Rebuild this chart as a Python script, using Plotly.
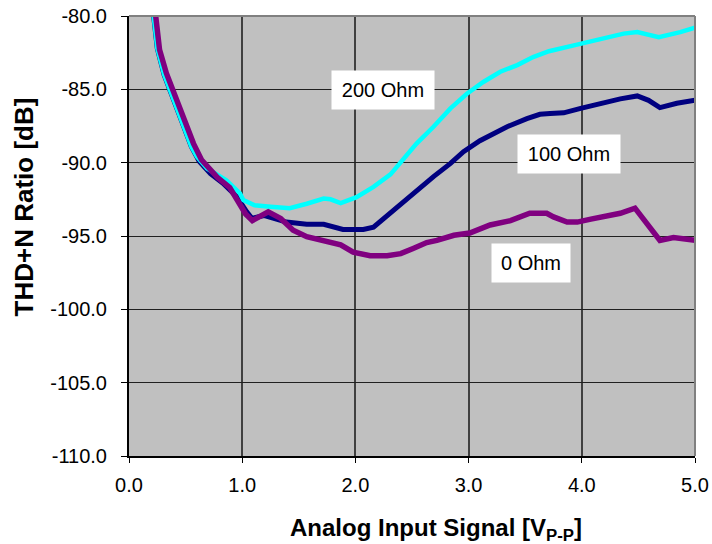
import plotly.graph_objects as go

# ---- data ----
x_0ohm = [0.20, 0.24, 0.27, 0.33, 0.39, 0.45, 0.51, 0.57, 0.64, 0.78, 0.89, 0.97, 1.03, 1.09,
          1.23, 1.34, 1.45, 1.57, 1.75, 1.87, 1.98, 2.13, 2.28, 2.40, 2.51, 2.63, 2.72, 2.87,
          3.01, 3.19, 3.37, 3.54, 3.69, 3.75, 3.87, 3.96, 4.08, 4.19, 4.34, 4.47, 4.58, 4.69,
          4.81, 5.00]
y_0ohm = [-77.6, -80.1, -82.3, -83.9, -85.1, -86.4, -87.6, -88.7, -89.8, -91.0, -91.7, -92.7,
          -93.5, -93.95, -93.35, -93.8, -94.6, -95.05, -95.4, -95.6, -96.1, -96.35, -96.35,
          -96.2, -95.85, -95.45, -95.3, -94.95, -94.8, -94.25, -93.95, -93.45, -93.45, -93.7,
          -94.05, -94.05, -93.85, -93.65, -93.45, -93.1, -94.15, -95.3, -95.1, -95.3]

x_100ohm = [0.20, 0.22, 0.25, 0.31, 0.37, 0.43, 0.49, 0.55, 0.62, 0.72, 0.83, 0.95, 1.04, 1.085,
            1.19, 1.275, 1.39, 1.57, 1.72, 1.89, 2.07, 2.16, 2.28, 2.40, 2.54, 2.69, 2.84,
            2.955, 3.10, 3.19, 3.34, 3.515, 3.63, 3.72, 3.84, 3.99, 4.16, 4.34, 4.49, 4.59,
            4.69, 4.84, 5.00]
y_100ohm = [-78.8, -80.1, -82.2, -84.0, -85.2, -86.6, -87.8, -88.9, -89.9, -90.75, -91.4, -92.3,
            -93.35, -93.8, -93.6, -93.8, -94.05, -94.2, -94.2, -94.55, -94.55, -94.4, -93.6,
            -92.9, -91.9, -90.95, -90.05, -89.25, -88.5, -88.15, -87.55, -87.0, -86.7, -86.65,
            -86.6, -86.3, -85.95, -85.65, -85.45, -85.75, -86.25, -85.95, -85.75]

x_200ohm = [0.20, 0.22, 0.25, 0.31, 0.37, 0.43, 0.49, 0.55, 0.60, 0.69, 0.86, 0.98, 1.01, 1.11,
            1.25, 1.42, 1.57, 1.72, 1.78, 1.87, 2.01, 2.16, 2.31, 2.395, 2.54, 2.69, 2.84,
            2.985, 3.13, 3.28, 3.43, 3.57, 3.71, 3.93, 4.16, 4.37, 4.49, 4.68, 4.87, 5.00]
y_200ohm = [-78.8, -80.1, -82.2, -84.0, -85.2, -86.6, -87.8, -88.9, -89.6, -90.4, -91.2, -92.1,
            -92.55, -92.9, -93.0, -93.1, -92.8, -92.45, -92.5, -92.75, -92.35, -91.65, -90.8,
            -90.05, -88.7, -87.55, -86.3, -85.3, -84.5, -83.8, -83.35, -82.8, -82.4, -82.0,
            -81.55, -81.2, -81.1, -81.45, -81.1, -80.8]

x_ticks = [0, 1, 2, 3, 4, 5]
x_tick_labels = ["0.0", "1.0", "2.0", "3.0", "4.0", "5.0"]
y_ticks = [-110, -105, -100, -95, -90, -85, -80]
y_tick_labels = ["-110.0", "-105.0", "-100.0", "-95.0", "-90.0", "-85.0", "-80.0"]

series_labels = ["200 Ohm", "100 Ohm", "0 Ohm"]
label_x = [2.245, 3.889, 3.553]
label_y = [-85.06, -89.42, -96.81]
label_w = [90, 90, 66]

FONT = "Liberation Sans, Arial, sans-serif"

fig = go.Figure()
fig.add_trace(go.Scatter(x=x_100ohm, y=y_100ohm, mode="lines", name="100 Ohm",
                         line=dict(color="#000080", width=5)))
fig.add_trace(go.Scatter(x=x_200ohm, y=y_200ohm, mode="lines", name="200 Ohm",
                         line=dict(color="#00FFFF", width=4.5)))
fig.add_trace(go.Scatter(x=x_0ohm, y=y_0ohm, mode="lines", name="0 Ohm",
                         line=dict(color="#800080", width=5.5)))

for txt, ax_, ay_, w in zip(series_labels, label_x, label_y, label_w):
    fig.add_annotation(x=ax_, y=ay_, xref="x", yref="y", text=txt, showarrow=False,
                       bgcolor="white", width=w, height=26, borderpad=6,
                       font=dict(family=FONT, size=20, color="black"))

# axis titles
fig.add_annotation(x=0.5424, y=-0.166, xref="paper", yref="paper", xanchor="center",
                   yanchor="middle", showarrow=False,
                   text="<b>Analog Input Signal [V<sub>P-P</sub>]</b>",
                   font=dict(family=FONT, size=24, color="black"))
fig.add_annotation(x=-0.1855, y=0.565, xref="paper", yref="paper", xanchor="center",
                   yanchor="middle", showarrow=False, textangle=-90,
                   text="<b>THD+N Ratio [dB]</b>",
                   font=dict(family=FONT, size=26, color="black"))

# gray frame on top and right
fig.add_shape(type="line", xref="paper", yref="paper", x0=0, x1=1, y0=1, y1=1,
              line=dict(color="#808080", width=2))
fig.add_shape(type="line", xref="paper", yref="paper", x0=1, x1=1, y0=0, y1=1,
              line=dict(color="#808080", width=2))

fig.update_layout(
    width=712, height=544,
    margin=dict(l=129, r=17, t=16, b=88, autoexpand=False),
    paper_bgcolor="white", plot_bgcolor="#C0C0C0",
    showlegend=False,
    font=dict(family=FONT, size=20, color="black"),
    xaxis=dict(range=[0, 5], tickvals=x_ticks, ticktext=x_tick_labels,
               showgrid=True, gridcolor="#404040", gridwidth=1.5,
               zeroline=False, showline=True, linecolor="black", linewidth=2,
               ticks="outside", ticklen=5, tickcolor="black", tickwidth=1,
               ticklabelstandoff=5, tickfont=dict(family=FONT, size=20),
               automargin=False),
    yaxis=dict(range=[-110, -80], tickvals=y_ticks, ticktext=y_tick_labels,
               showgrid=True, gridcolor="#202020", gridwidth=1,
               zeroline=False, showline=True, linecolor="black", linewidth=2,
               ticks="outside", ticklen=6, tickcolor="black", tickwidth=1,
               ticklabelstandoff=10, tickfont=dict(family=FONT, size=20),
               automargin=False),
)

# remove the browser's default page margin so the figure fills the window exactly
fig.write_html("out.html", config={"displayModeBar": False},
               post_script="document.body.style.margin='0px';")
